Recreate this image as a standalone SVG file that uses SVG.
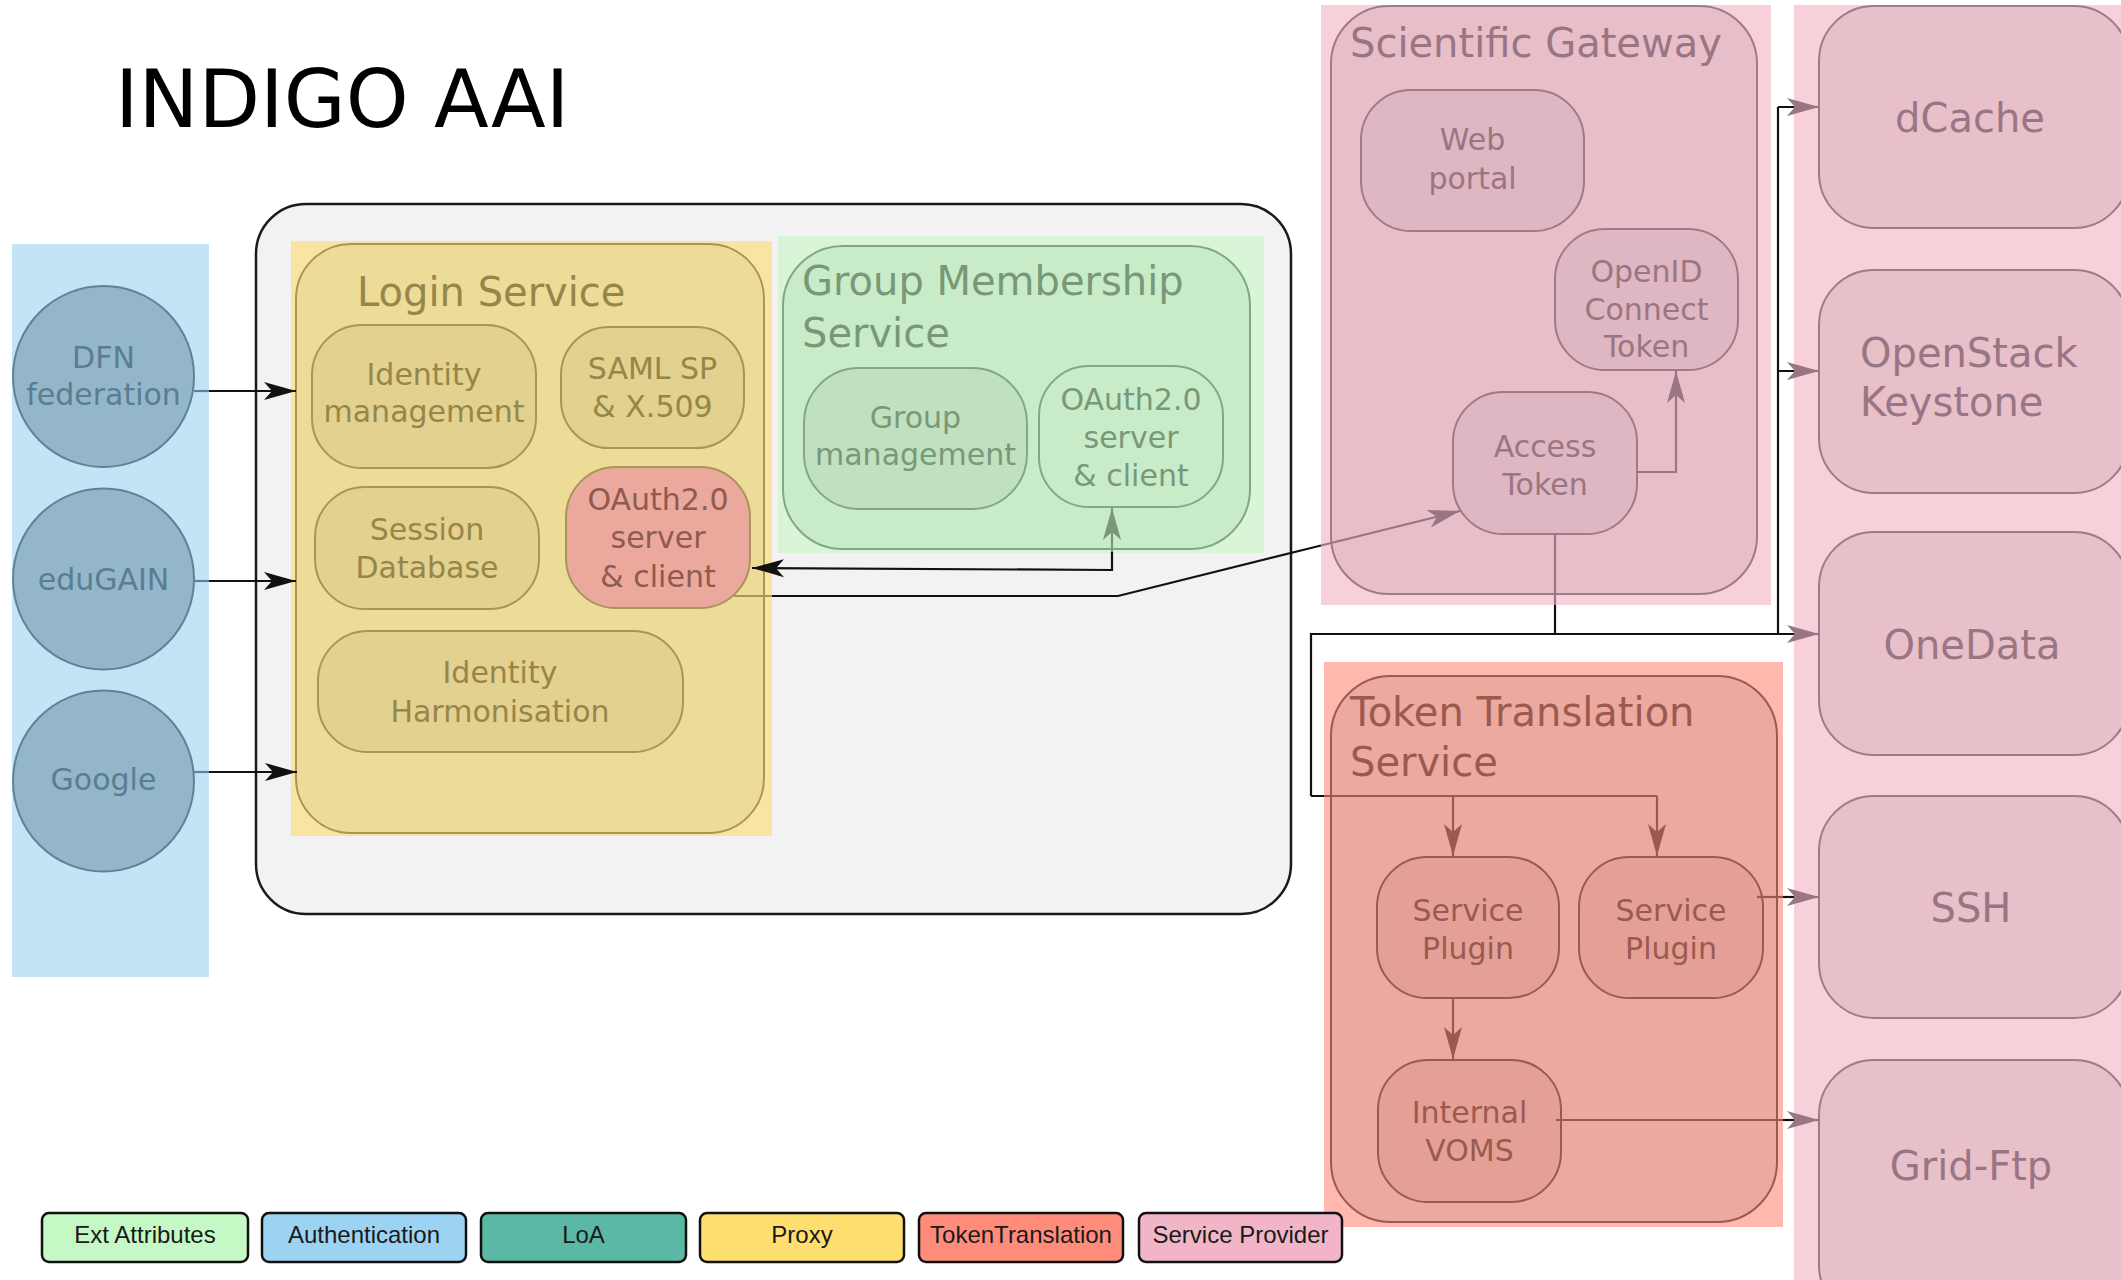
<svg xmlns="http://www.w3.org/2000/svg" width="2121" height="1280" viewBox="0 0 2121 1280">
<style>
text{font-family:"DejaVu Sans","Liberation Sans",sans-serif}
.t30{font-size:30px;text-anchor:middle}
.t40{font-size:40px}
.c40{font-size:40px;text-anchor:middle}
.blue{fill:#5a7d90}
.olive{fill:#968649}
.green{fill:#789878}
.mauve{fill:#9a7584}
.brown{fill:#9b5a50}
.circ{fill:#94b6ca;stroke:#5e8398;stroke-width:2}
.ybox{fill:#e3d18f;stroke:#a8955a;stroke-width:2}
.gbox{stroke:#82a882;stroke-width:2}
.pbox{fill:#dfb7c2;stroke:#a07a88;stroke-width:2}
.sbox{fill:#e8c0ca;stroke:#a07a88;stroke-width:2}
.rbox{fill:#e4a096;stroke:#9b5a50;stroke-width:2}
.leg rect{stroke:#111;stroke-width:2.5}
.leg text{font-family:"Liberation Sans",Arial,sans-serif;font-size:24px;text-anchor:middle;fill:#1a1a1a}
</style>
<defs>
<marker id="ah-k" markerUnits="userSpaceOnUse" markerWidth="34" markerHeight="20" refX="32" refY="10" orient="auto" viewBox="0 0 34 20"><path d="M32,10 L0,1 L8,10 L0,19 Z" fill="#111"/></marker>
<marker id="ah-g" markerUnits="userSpaceOnUse" markerWidth="34" markerHeight="20" refX="32" refY="10" orient="auto" viewBox="0 0 34 20"><path d="M32,10 L0,1 L8,10 L0,19 Z" fill="#789878"/></marker>
<marker id="ah-m" markerUnits="userSpaceOnUse" markerWidth="34" markerHeight="20" refX="32" refY="10" orient="auto" viewBox="0 0 34 20"><path d="M32,10 L0,1 L8,10 L0,19 Z" fill="#9a7584"/></marker>
<marker id="ah-b" markerUnits="userSpaceOnUse" markerWidth="34" markerHeight="20" refX="32" refY="10" orient="auto" viewBox="0 0 34 20"><path d="M32,10 L0,1 L8,10 L0,19 Z" fill="#9b5a50"/></marker>
</defs>
<rect width="2121" height="1280" fill="#ffffff"/>

<text x="115" y="127" font-size="80" fill="#000">INDIGO AAI</text>

<!-- regions -->
<rect id="auth-band" x="12" y="244" width="197" height="733" fill="#c2e4f5"/>
<g id="aai-container">
<rect x="256" y="204" width="1035" height="710" rx="50" fill="#f2f2f2" stroke="#1a1a1a" stroke-width="2.5"/>
</g>
<rect x="291" y="241" width="481" height="595" fill="#f9e4a1"/>
<rect x="778" y="236" width="486" height="317" fill="#d8f5d8"/>
<rect x="1321" y="5" width="450" height="600" fill="#f8d0da"/>
<rect x="1794" y="5" width="327" height="1275" fill="#f8d0da"/>
<rect x="1324" y="662" width="459" height="565" fill="#feb8ad"/>

<!-- identity providers -->
<g id="dfn"><circle class="circ" cx="103.5" cy="376.5" r="90.5"/><text class="t30 blue" x="103.5" y="368">DFN</text><text class="t30 blue" x="103.5" y="405">federation</text></g>
<g id="edugain"><circle class="circ" cx="103.5" cy="579" r="90.5"/><text class="t30 blue" x="103.5" y="590">eduGAIN</text></g>
<g id="google"><circle class="circ" cx="103.5" cy="781" r="90.5"/><text class="t30 blue" x="103.5" y="790">Google</text></g>

<!-- login service -->
<g id="login-service">
<rect x="296" y="244" width="468" height="589" rx="55" fill="#eddb98" stroke="#a8955a" stroke-width="2"/>
<text class="t40 olive" x="357" y="306">Login Service</text>
</g>
<g id="identity-management"><rect class="ybox" x="312" y="325" width="224" height="143" rx="50"/><text class="t30 olive" x="424" y="385">Identity</text><text class="t30 olive" x="424" y="422">management</text></g>
<g id="saml-sp"><rect class="ybox" x="561" y="327" width="183" height="121" rx="48"/><text class="t30 olive" x="652.5" y="379">SAML SP</text><text class="t30 olive" x="652.5" y="417">&amp; X.509</text></g>
<g id="session-db"><rect class="ybox" x="315" y="487" width="224" height="122" rx="50"/><text class="t30 olive" x="427" y="540">Session</text><text class="t30 olive" x="427" y="578">Database</text></g>
<g id="login-oauth"><rect x="566" y="467" width="184" height="141" rx="50" fill="#eba89d" stroke="#a8955a" stroke-width="2"/><text class="t30" fill="#8f5a50" x="658" y="510">OAuth2.0</text><text class="t30" fill="#8f5a50" x="658" y="548">server</text><text class="t30" fill="#8f5a50" x="658" y="587">&amp; client</text></g>
<g id="identity-harmonisation"><rect class="ybox" x="318" y="631" width="365" height="121" rx="50"/><text class="t30 olive" x="500" y="683">Identity</text><text class="t30 olive" x="500" y="722">Harmonisation</text></g>

<!-- group membership service -->
<g id="gms">
<rect x="783" y="246" width="467" height="303" rx="60" fill="#c8ecc8" stroke="#82a882" stroke-width="2"/>
<text class="t40 green" x="802" y="295">Group Membership</text>
<text class="t40 green" x="802" y="347">Service</text>
</g>
<g id="group-management"><rect class="gbox" fill="#bfe1bf" x="804" y="368" width="223" height="141" rx="55"/><text class="t30 green" x="915.5" y="428">Group</text><text class="t30 green" x="915.5" y="465">management</text></g>
<g id="gms-oauth"><rect class="gbox" fill="#c8ecc8" x="1039" y="366" width="184" height="141" rx="50"/><text class="t30 green" x="1131" y="410">OAuth2.0</text><text class="t30 green" x="1131" y="448">server</text><text class="t30 green" x="1131" y="486">&amp; client</text></g>

<!-- scientific gateway -->
<g id="scientific-gateway">
<rect x="1331" y="6" width="426" height="588" rx="58" fill="#e8bfc9" stroke="#a07a88" stroke-width="2"/>
<text class="t40 mauve" x="1350" y="57">Scientific Gateway</text>
</g>
<g id="web-portal"><rect class="pbox" x="1361" y="90" width="223" height="141" rx="50"/><text class="t30 mauve" x="1472.5" y="150">Web</text><text class="t30 mauve" x="1472.5" y="189">portal</text></g>
<g id="openid-token"><rect class="pbox" x="1555" y="229" width="183" height="141" rx="50"/><text class="t30 mauve" x="1646.5" y="282">OpenID</text><text class="t30 mauve" x="1646.5" y="320">Connect</text><text class="t30 mauve" x="1646.5" y="357">Token</text></g>
<g id="access-token"><rect class="pbox" x="1453" y="392" width="184" height="142" rx="50"/><text class="t30 mauve" x="1545" y="457">Access</text><text class="t30 mauve" x="1545" y="495">Token</text></g>

<!-- token translation service -->
<g id="tts">
<rect x="1331" y="676" width="446" height="546" rx="60" fill="#eca99f" stroke="#9b5a50" stroke-width="2"/>
<text class="t40 brown" x="1350" y="726">Token Translation</text>
<text class="t40 brown" x="1350" y="776">Service</text>
</g>
<g id="service-plugin-1"><rect class="rbox" x="1377" y="857" width="182" height="141" rx="50"/><text class="t30 brown" x="1468" y="921">Service</text><text class="t30 brown" x="1468" y="959">Plugin</text></g>
<g id="service-plugin-2"><rect class="rbox" x="1579" y="857" width="184" height="141" rx="50"/><text class="t30 brown" x="1671" y="921">Service</text><text class="t30 brown" x="1671" y="959">Plugin</text></g>
<g id="internal-voms"><rect class="rbox" x="1378" y="1060" width="183" height="142" rx="50"/><text class="t30 brown" x="1469.5" y="1123">Internal</text><text class="t30 brown" x="1469.5" y="1161">VOMS</text></g>

<!-- service providers -->
<g id="dcache"><rect class="sbox" x="1819" y="6" width="310" height="222" rx="55"/><text class="c40 mauve" x="1970" y="132">dCache</text></g>
<g id="openstack"><rect class="sbox" x="1819" y="270" width="310" height="223" rx="55"/><text class="t40 mauve" x="1860" y="367">OpenStack</text><text class="t40 mauve" x="1860" y="416">Keystone</text></g>
<g id="onedata"><rect class="sbox" x="1819" y="532" width="310" height="223" rx="55"/><text class="c40 mauve" x="1972" y="659">OneData</text></g>
<g id="ssh"><rect class="sbox" x="1819" y="796" width="310" height="222" rx="55"/><text class="c40 mauve" x="1971" y="922">SSH</text></g>
<g id="grid-ftp"><rect class="sbox" x="1819" y="1060" width="310" height="260" rx="55"/><text class="c40 mauve" x="1971" y="1180">Grid-Ftp</text></g>

<!-- connectors -->
<g id="connectors" fill="none" stroke-width="2.2" stroke-linejoin="miter">
<path d="M194,391 H209" stroke="#5e8398"/><path d="M209,391 H296" stroke="#111" marker-end="url(#ah-k)"/>
<path d="M194,581 H209" stroke="#5e8398"/><path d="M209,581 H296" stroke="#111" marker-end="url(#ah-k)"/>
<path d="M194,772 H209" stroke="#5e8398"/><path d="M209,772 H297" stroke="#111" marker-end="url(#ah-k)"/>
<path d="M1112,553 V508" stroke="#789878" marker-end="url(#ah-g)"/>
<path d="M1112,552 V570 L752,568" stroke="#111" marker-end="url(#ah-k)"/>
<path d="M734,596 H772" stroke="#a8955a"/>
<path d="M772,596 H1118 L1321,545.5" stroke="#111"/>
<path d="M1321,545.5 L1460,511" stroke="#9a7584" marker-end="url(#ah-m)"/>
<path d="M1637,472 H1676 V371" stroke="#9a7584" marker-end="url(#ah-m)"/>
<path d="M1555,534 V605" stroke="#9a7584"/>
<path d="M1555,605 V634" stroke="#111"/>
<path d="M1311,796 V634 H1794 M1778,107 V634 M1778,107 H1794 M1778,371 H1794 M1324,796 H1311" stroke="#111"/>
<path d="M1794,107 H1819" stroke="#9a7584" marker-end="url(#ah-m)"/>
<path d="M1794,371 H1819" stroke="#9a7584" marker-end="url(#ah-m)"/>
<path d="M1794,634 H1819" stroke="#9a7584" marker-end="url(#ah-m)"/>
<path d="M1324,796 H1657" stroke="#9b5a50"/>
<path d="M1453,796 V856" stroke="#9b5a50" marker-end="url(#ah-b)"/>
<path d="M1657,796 V856" stroke="#9b5a50" marker-end="url(#ah-b)"/>
<path d="M1453,998 V1059" stroke="#9b5a50" marker-end="url(#ah-b)"/>
<path d="M1757,897 H1783" stroke="#9b5a50"/><path d="M1783,897 H1794" stroke="#111"/><path d="M1794,897 H1819" stroke="#9a7584" marker-end="url(#ah-m)"/>
<path d="M1556,1120 H1783" stroke="#9b5a50"/><path d="M1783,1120 H1794" stroke="#111"/><path d="M1794,1120 H1819" stroke="#9a7584" marker-end="url(#ah-m)"/>
</g>

<!-- legend -->
<g id="legend" class="leg">
<g id="leg-ext"><rect x="42" y="1213" width="206" height="49" rx="7" fill="#c4f8c4"/><text x="145" y="1243">Ext Attributes</text></g>
<g id="leg-auth"><rect x="262" y="1213" width="204" height="49" rx="7" fill="#9dd3f2"/><text x="364" y="1243">Authentication</text></g>
<g id="leg-loa"><rect x="481" y="1213" width="205" height="49" rx="7" fill="#5bb8a5"/><text x="583.5" y="1243">LoA</text></g>
<g id="leg-proxy"><rect x="700" y="1213" width="204" height="49" rx="7" fill="#ffde70"/><text x="802" y="1243">Proxy</text></g>
<g id="leg-tt"><rect x="919" y="1213" width="204" height="49" rx="7" fill="#ff8b7b"/><text x="1021" y="1243">TokenTranslation</text></g>
<g id="leg-sp"><rect x="1139" y="1213" width="203" height="49" rx="7" fill="#f2b5c8"/><text x="1240.5" y="1243">Service Provider</text></g>
</g>
</svg>
